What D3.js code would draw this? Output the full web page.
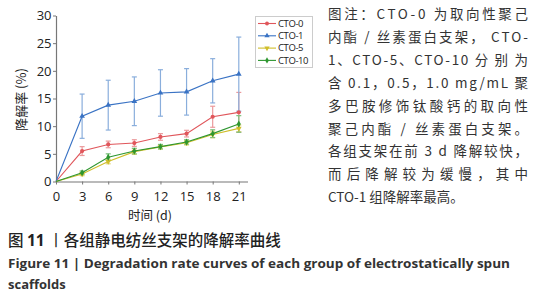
<!DOCTYPE html>
<html>
<head>
<meta charset="utf-8">
<script src="https://cdn.jsdelivr.net/npm/d3@7"></script>
<style>
  body { margin: 0; background: #fff; }
  svg { display: block; }
</style>
</head>
<body>
<div id="chart"></div>
<script>
// data
const days = [0, 3, 6, 9, 12, 15, 18, 21];
const xTicks = [0, 3, 6, 9, 12, 15, 18, 21];
const yTicks = [0, 5, 10, 15, 20, 25, 30];

const cto0Mean = [0, 5.5, 6.7, 6.95, 8.05, 8.65, 11.7, 12.5];
const cto0Err  = [0, 0.8, 0.6, 0.6, 0.6, 0.6, 1.9, 3.6];
const cto1Mean = [0, 11.8, 13.8, 14.5, 16.0, 16.2, 18.2, 19.4];
const cto1Err  = [0, 4.0, 4.5, 4.4, 4.2, 4.2, 4.0, 6.7];
const cto5Mean = [0, 1.35, 3.6, 5.4, 6.25, 7.0, 8.5, 9.6];
const cto5Err  = [0, 0.3, 0.4, 0.5, 0.4, 0.4, 0.6, 0.6];
const cto10Mean = [0, 1.6, 4.4, 5.5, 6.3, 7.15, 8.65, 10.4];
const cto10Err  = [0, 0.3, 0.6, 0.5, 0.4, 0.4, 0.7, 1.5];

const seriesNames = ["CTO-0", "CTO-1", "CTO-5", "CTO-10"];

const noteLines = [
    "图注：CTO-0 为取向性聚己",
    "内酯 / 丝素蛋白支架， CTO-",
    "1、CTO-5、CTO-10 分 别 为",
    "含 0.1，0.5，1.0 mg/mL 聚",
    "多巴胺修饰钛酸钙的取向性",
    "聚己内酯 / 丝素蛋白支架。",
    "各组支架在前 3 d 降解较快，",
    "而后降解较为缓慢，其中",
    "CTO-1 组降解率最高。"
];

const series = [
    {name: seriesNames[0], mean: cto0Mean, err: cto0Err, color: "#e0565b", errColor: "#eb9a9c", symbol: d3.symbolCircle},
    {name: seriesNames[1], mean: cto1Mean, err: cto1Err, color: "#3a73c4", errColor: "#8aaedc", symbol: d3.symbolTriangle},
    {name: seriesNames[2], mean: cto5Mean, err: cto5Err, color: "#d0be2a", errColor: "#e2d67a", symbol: d3.symbolTriangle, flip: true},
    {name: seriesNames[3], mean: cto10Mean, err: cto10Err, color: "#2e9630", errColor: "#7cc07d", symbol: d3.symbolDiamond}
];

const width = 545, height = 300;
const cjk = "'Noto Sans CJK SC', 'Noto Sans', sans-serif";
const latin = "'Open Sans', 'Noto Sans', sans-serif";

const svg = d3.select("#chart").append("svg")
    .attr("width", width)
    .attr("height", height);

const x = d3.scaleLinear().domain([0, 22]).range([56, 247.5]);
const y = d3.scaleLinear().domain([0, 30]).range([181.5, 15.5]);

// axes
const xAxis = svg.append("g")
    .attr("transform", `translate(0, ${y(0)})`)
    .call(d3.axisBottom(x).tickValues(xTicks).tickSize(3).tickSizeOuter(0));
const yAxis = svg.append("g")
    .attr("transform", `translate(${x(0)}, 0)`)
    .call(d3.axisLeft(y).tickValues(yTicks).tickSize(3).tickSizeOuter(0));

[xAxis, yAxis].forEach(a => {
    a.select(".domain").attr("stroke", "#777").attr("stroke-width", 1.2);
    a.selectAll(".tick line").attr("stroke", "#777");
    a.selectAll("text")
        .attr("fill", "#222")
        .style("font-family", latin)
        .style("font-size", "13px");
});
xAxis.selectAll("text").attr("dy", "1.0em");
yAxis.selectAll("text").attr("x", -4.5);

// axis titles
svg.append("text")
    .attr("transform", `translate(21, ${y(15) + 1}) rotate(-90)`)
    .attr("text-anchor", "middle")
    .attr("dy", "0.35em")
    .attr("fill", "#222")
    .style("font-family", cjk)
    .style("font-size", "13px")
    .text("降解率 (%)");

svg.append("text")
    .attr("x", 150)
    .attr("y", 220)
    .attr("text-anchor", "middle")
    .attr("fill", "#222")
    .style("font-family", cjk)
    .style("font-size", "12.5px")
    .text("时间 (d)");

// error bars first, then lines and markers
const plot = svg.append("g");
series.forEach(s => {
    const pts = days.map((d, i) => ({d: d, m: s.mean[i], e: s.err[i]})).filter(p => p.e > 0);
    const g = plot.append("g").attr("stroke", s.errColor).attr("stroke-width", 1.2);
    g.selectAll("line.v").data(pts).enter().append("line")
        .attr("x1", p => x(p.d)).attr("x2", p => x(p.d))
        .attr("y1", p => y(p.m - p.e)).attr("y2", p => y(p.m + p.e));
    g.selectAll("line.t").data(pts).enter().append("line")
        .attr("x1", p => x(p.d) - 2.5).attr("x2", p => x(p.d) + 2.5)
        .attr("y1", p => y(p.m + p.e)).attr("y2", p => y(p.m + p.e));
    g.selectAll("line.b").data(pts).enter().append("line")
        .attr("x1", p => x(p.d) - 2.5).attr("x2", p => x(p.d) + 2.5)
        .attr("y1", p => y(p.m - p.e)).attr("y2", p => y(p.m - p.e));
});

const line = d3.line().x((d, i) => x(days[i])).y(d => y(d));
series.forEach(s => {
    plot.append("path")
        .datum(s.mean)
        .attr("fill", "none")
        .attr("stroke", s.color)
        .attr("stroke-width", 1.1)
        .attr("d", line);
    plot.append("g").selectAll("path")
        .data(s.mean.slice(1))
        .enter().append("path")
        .attr("d", d3.symbol().type(s.symbol).size(14))
        .attr("transform", (d, i) => `translate(${x(days[i + 1])}, ${y(d)})${s.flip ? " rotate(180)" : ""}`)
        .attr("fill", s.color);
});

// legend
const legend = svg.append("g");
legend.append("rect")
    .attr("x", 255.5).attr("y", 16.5)
    .attr("width", 57).attr("height", 51)
    .attr("fill", "#fff")
    .attr("stroke", "#ccc");
const items = legend.selectAll("g.item")
    .data(series)
    .enter().append("g")
    .attr("transform", (d, i) => `translate(0, ${23.5 + i * 12.3})`);
items.append("line")
    .attr("x1", 258).attr("x2", 276)
    .attr("stroke", d => d.color).attr("stroke-width", 1.1);
items.append("path")
    .attr("d", d => d3.symbol().type(d.symbol).size(12)())
    .attr("transform", d => `translate(267, 0)${d.flip ? " rotate(180)" : ""}`)
    .attr("fill", d => d.color);
items.append("text")
    .attr("x", 278).attr("dy", "0.35em")
    .attr("fill", "#222")
    .style("font-family", latin)
    .style("font-size", "9.5px")
    .style("letter-spacing", "-0.4px")
    .text(d => d.name);

// note text on the right, justified
const note = svg.append("g")
    .attr("fill", "#333")
    .style("font-family", cjk)
    .style("font-size", "13.5px");
note.selectAll("text")
    .data(noteLines)
    .enter().append("text")
    .attr("x", 328)
    .attr("y", (d, i) => 19 + i * 22.9)
    .attr("textLength", (d, i) => i < noteLines.length - 1 ? 200 : null)
    .attr("lengthAdjust", "spacing")
    .text(d => d);

// captions
const cap = svg.append("text")
    .attr("x", 8).attr("y", 245.5)
    .attr("fill", "#222")
    .attr("font-weight", "500")
    .style("font-family", cjk)
    .style("font-size", "15.5px");
cap.append("tspan").text("图 ");
cap.append("tspan").attr("font-weight", "bold").style("font-family", latin).text("11");
cap.append("tspan").attr("font-weight", "normal").text(" 丨");
cap.append("tspan").text("各组静电纺丝支架的降解率曲线");

svg.append("text")
    .attr("x", 8).attr("y", 268)
    .attr("fill", "#333")
    .attr("font-weight", "bold")
    .attr("textLength", 502)
    .attr("lengthAdjust", "spacingAndGlyphs")
    .style("font-family", latin)
    .style("font-size", "13px")
    .text("Figure 11 | Degradation rate curves of each group of electrostatically spun");

svg.append("text")
    .attr("x", 8).attr("y", 289)
    .attr("fill", "#333")
    .attr("font-weight", "bold")
    .style("font-family", latin)
    .style("font-size", "13px")
    .text("scaffolds");
</script>
</body>
</html>
